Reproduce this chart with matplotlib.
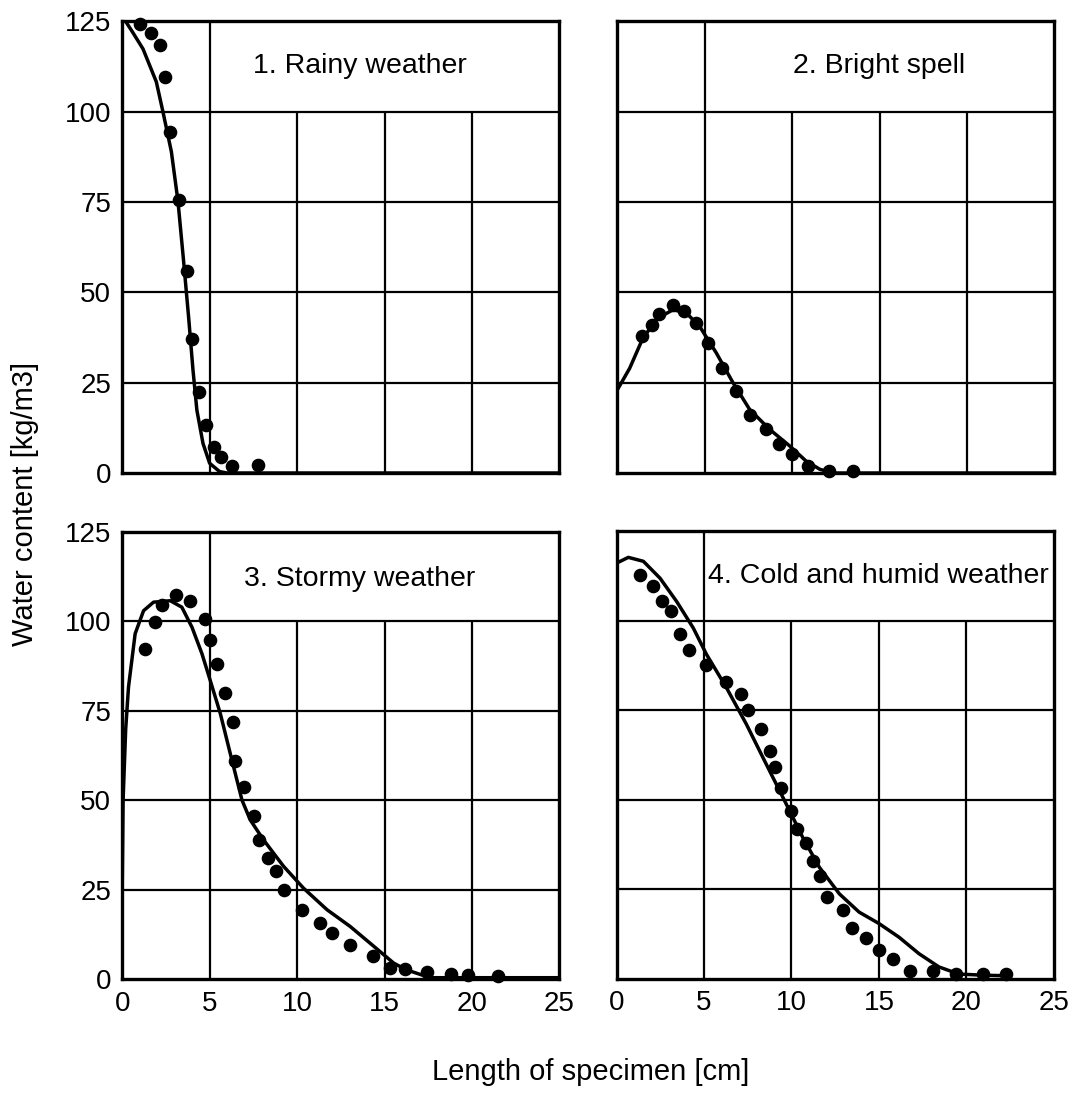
import matplotlib
matplotlib.use('Agg')
import matplotlib.pyplot as plt

plt.rcParams['font.family'] = ['Liberation Sans', 'DejaVu Sans']

# measured profiles (dots) and simulated profiles (lines), x in cm, y in kg/m3
rainy_pts_x = [1.0, 1.63, 2.18, 2.47, 2.75, 3.23, 3.72, 4.01, 4.39, 4.81, 5.25, 5.67, 6.3, 7.76]
rainy_pts_y = [124.3, 121.8, 118.5, 109.5, 94.3, 75.7, 55.9, 37.1, 22.4, 13.2, 7.2, 4.5, 1.9, 2.2]
rainy_line_x = [0.2, 0.6, 1.19, 1.95, 2.33, 2.81, 3.19, 3.51, 3.8, 4.05, 4.27, 4.62, 5.0, 5.57, 6.0, 25.0]
rainy_line_y = [125, 122, 117.4, 108.3, 100, 89, 75.2, 58.7, 43, 28.4, 17.4, 8.2, 2.7, 0.4, 0, 0]

bright_pts_x = [1.44, 2.01, 2.39, 3.19, 3.8, 4.52, 5.19, 6.01, 6.77, 7.61, 8.53, 9.23, 10.0, 10.9, 12.1, 13.5]
bright_pts_y = [38.0, 41.1, 44.0, 46.6, 44.9, 41.5, 36.0, 29.1, 22.7, 16.0, 12.1, 7.9, 5.3, 1.9, 0.5, 0.5]
bright_line_x = [0.0, 0.71, 1.47, 2.33, 3.19, 3.95, 4.71, 5.67, 6.62, 7.57, 8.71, 9.86, 10.8, 11.6, 12.4, 25.0]
bright_line_y = [23, 29, 37.4, 42.9, 45.2, 44.3, 40.6, 33.2, 25, 17.6, 12.1, 7.5, 3.3, 1.0, 0, 0]

stormy_pts_x = [1.32, 1.89, 2.27, 3.09, 3.85, 4.71, 5.03, 5.42, 5.89, 6.33, 6.46, 6.98, 7.51, 7.84,
                8.31, 8.81, 9.27, 10.28, 11.29, 12.0, 13.0, 14.34, 15.29, 16.19, 17.45, 18.8, 19.8, 21.5]
stormy_pts_y = [92.4, 99.8, 104.5, 107.5, 105.7, 100.7, 94.7, 88, 79.9, 71.8, 61.1, 53.8, 45.7, 39,
                33.9, 30.2, 25.1, 19.5, 15.8, 13.0, 9.5, 6.5, 3.3, 2.8, 2.2, 1.5, 1.2, 0.9]
stormy_line_x = [0.0, 0.05, 0.2, 0.36, 0.74, 1.22, 1.79, 2.75, 3.41, 3.99, 4.56, 5.03, 5.61, 6.18, 6.85,
                 7.32, 8.08, 9.23, 10.37, 11.71, 13.04, 14.38, 15.52, 16.2, 17.6, 25.0]
stormy_line_y = [25, 50, 70, 81.7, 96.6, 103, 105.4, 105.8, 104, 98.4, 91, 83.6, 74.3, 63.1, 50.1,
                 44.6, 39, 31.6, 25.5, 19.5, 14.8, 9.3, 4.6, 2.8, 0.5, 0.5]

cold_pts_x = [1.34, 2.1, 2.58, 3.09, 3.62, 4.15, 5.14, 6.28, 7.13, 7.51, 8.27, 8.75, 9.03, 9.41, 9.98,
              10.3, 10.84, 11.25, 11.64, 12.01, 12.96, 13.44, 14.29, 15.01, 15.81, 16.76, 18.09, 19.42,
              20.94, 22.27]
cold_pts_y = [112.9, 109.6, 105.6, 102.8, 96.2, 91.7, 87.6, 83.0, 79.6, 75.0, 69.7, 63.6, 59.2, 53.4, 46.9,
              41.8, 37.8, 32.8, 28.6, 22.8, 19.1, 14.3, 11.5, 7.9, 5.6, 2.2, 2.2, 1.4,
              1.4, 1.4]
cold_line_x = [0.0, 0.67, 1.53, 2.48, 3.43, 4.38, 5.14, 6.28, 7.42, 8.56, 9.7, 10.64, 11.6, 12.74, 13.87,
               15.01, 16.15, 17.29, 18.43, 19.57, 20.9, 22.5]
cold_line_y = [116.1, 117.7, 116.6, 111.9, 105.4, 98, 90.6, 81.3, 71.1, 59.9, 48.8, 39.5, 31.1, 23.7, 18.6,
               15.4, 11.6, 7.0, 3.3, 1.3, 1.0, 0.8]

titles = ['1. Rainy weather', '2. Bright spell', '3. Stormy weather', '4. Cold and humid weather']
x_ticks = [0, 5, 10, 15, 20, 25]
y_ticks = [0, 25, 50, 75, 100, 125]

panels = [
    (rainy_pts_x, rainy_pts_y, rainy_line_x, rainy_line_y),
    (bright_pts_x, bright_pts_y, bright_line_x, bright_line_y),
    (stormy_pts_x, stormy_pts_y, stormy_line_x, stormy_line_y),
    (cold_pts_x, cold_pts_y, cold_line_x, cold_line_y),
]

fig = plt.figure(figsize=(10.72, 10.96), dpi=100)
boxes = [
    [0.1140, 0.5684, 0.4078, 0.4120],
    [0.5758, 0.5684, 0.4078, 0.4120],
    [0.1140, 0.1063, 0.4078, 0.4083],
    [0.5752, 0.1070, 0.4078, 0.4083],
]
title_pos = [(13.6, 112.7, 'center'), (15.0, 112.7, 'center'),
             (13.6, 112.0, 'center'), (5.2, 112.5, 'left')]

for i, (px, py, lx, ly) in enumerate(panels):
    ax = fig.add_axes(boxes[i])
    ax.set_xlim(0, 25)
    ax.set_ylim(0, 125)

    # grid: upper row left open for the caption
    for yv in [25, 50, 75, 100]:
        ax.axhline(yv, color='black', lw=1.6, zorder=1)
    ax.axvline(5, color='black', lw=1.6, zorder=1)
    ax.vlines([10, 15, 20], 0, 100, color='black', lw=1.6, zorder=1)

    ax.plot(lx, ly, color='black', lw=2.5, solid_joinstyle='round', zorder=3)
    ax.plot(px, py, 'o', color='black', ms=8.8, zorder=4, clip_on=False)

    tx, ty, ha = title_pos[i]
    ax.text(tx, ty, titles[i], fontsize=20.5, ha=ha, va='center', zorder=5, clip_on=True)

    for s in ax.spines.values():
        s.set_linewidth(2.4)
    ax.set_xticks(x_ticks)
    ax.set_yticks(y_ticks)
    ax.tick_params(length=0, labelsize=20, pad=8)
    if i < 2:
        ax.set_xticklabels([])
    if i % 2 == 1:
        ax.set_yticklabels([])

fig.text(0.023, 0.5406, 'Water content [kg/m3]', rotation=90, ha='center', va='center', fontsize=21)
fig.text(0.551, 0.0219, 'Length of specimen [cm]', ha='center', va='center', fontsize=21)

fig.savefig('out.png', dpi=100)
